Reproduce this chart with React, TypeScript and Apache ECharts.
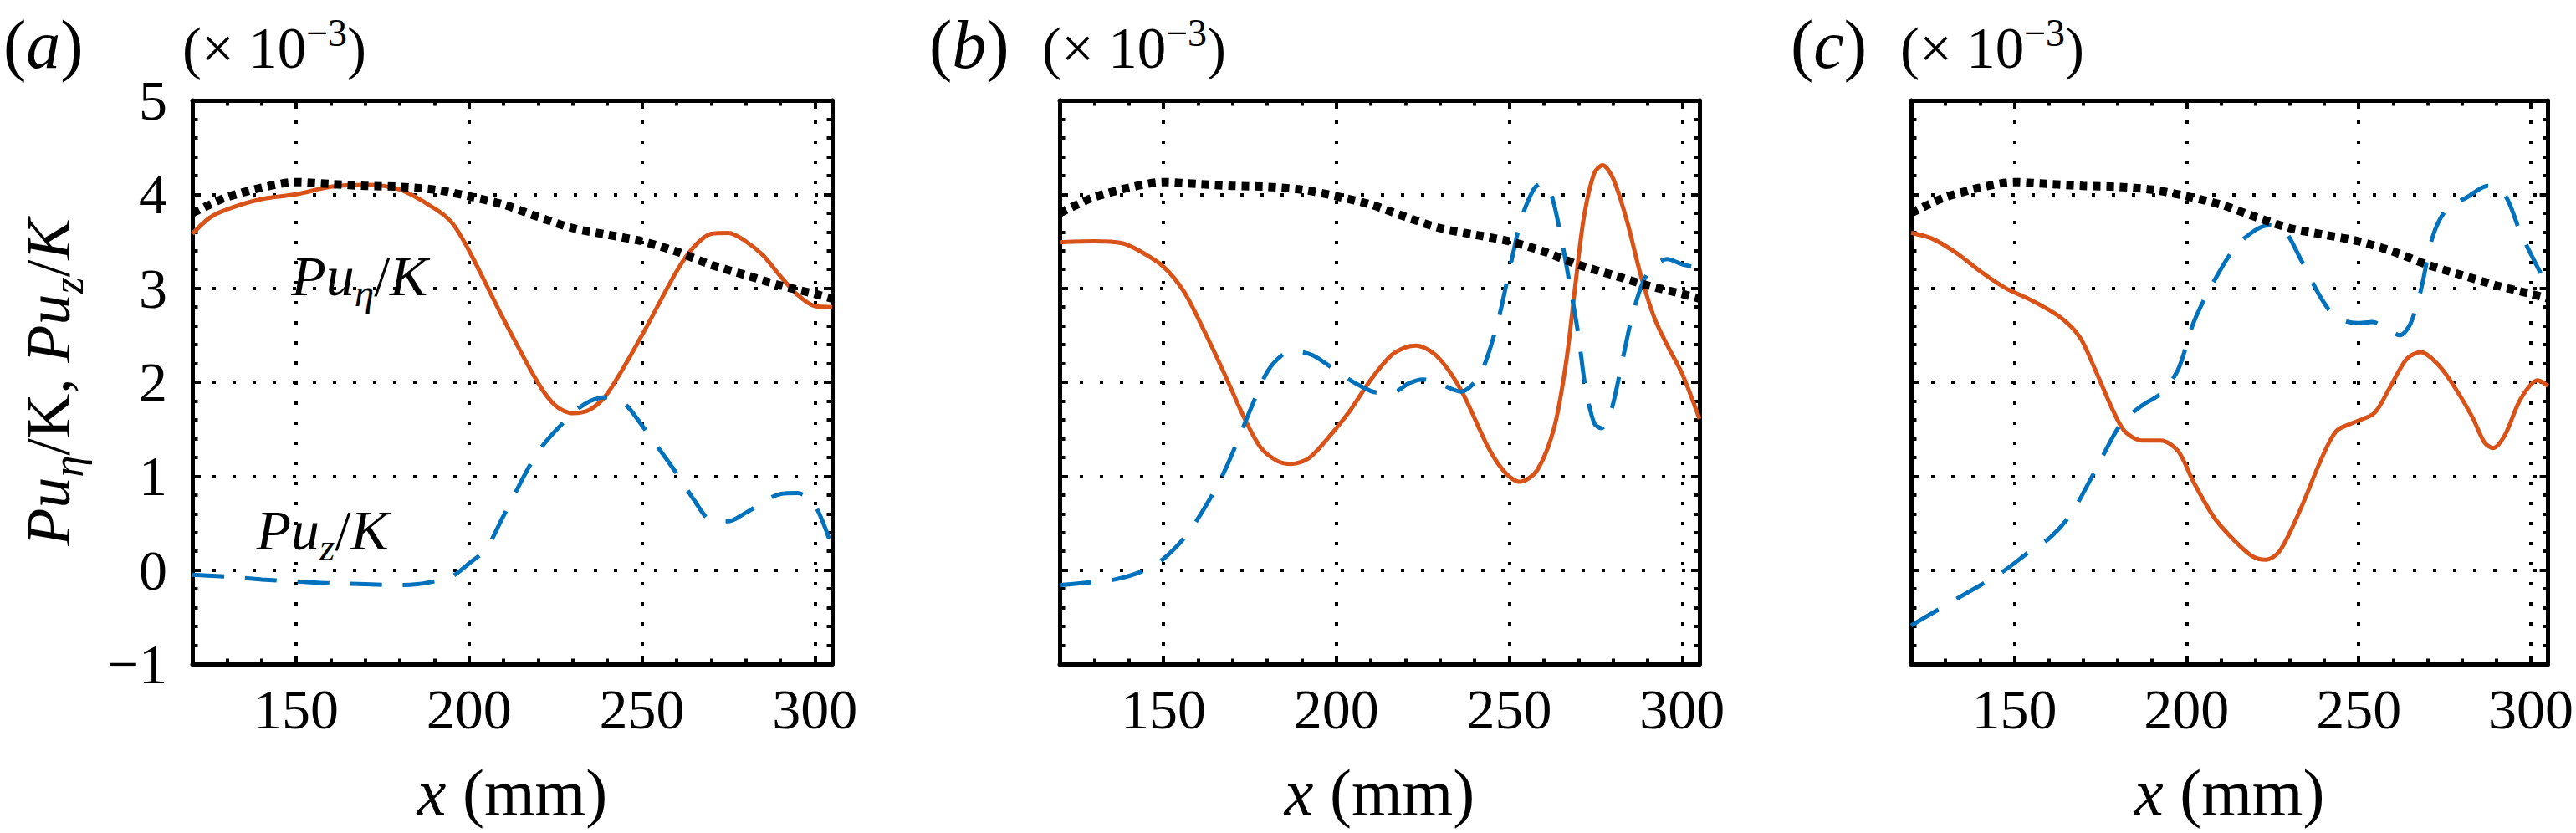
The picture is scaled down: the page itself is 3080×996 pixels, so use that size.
import React, { useEffect, useRef } from 'react';
import * as echarts from 'echarts';

const FONT = '"Liberation Serif", "Times New Roman", serif';
const ORANGE = '#D95319';
const BLUE = '#0072BD';
const BLACK = '#000000';

// ---------- data (x in mm, values in units of 1e-3) ----------
// black dotted reference curve (same in all panels)
const dottedX = [120, 125, 130, 140, 150, 160, 170, 180, 190, 200, 210, 220, 230, 240, 250, 260, 270, 280, 290, 300, 305];
const dottedY = [3.80, 3.89, 3.97, 4.07, 4.13, 4.11, 4.09, 4.08, 4.05, 3.98, 3.89, 3.76, 3.64, 3.57, 3.50, 3.39, 3.25, 3.14, 3.03, 2.94, 2.89];

// panel (a)
const aEtaX = [120, 125, 130, 140, 150, 160, 170, 180, 190, 195, 200, 210, 220, 225, 230, 235, 240, 250, 260, 265, 270, 275, 280, 285, 290, 295, 300, 305];
const aEtaY = [3.58, 3.75, 3.84, 3.95, 4.00, 4.08, 4.10, 4.05, 3.85, 3.70, 3.40, 2.67, 1.99, 1.75, 1.67, 1.71, 1.88, 2.50, 3.18, 3.44, 3.58, 3.59, 3.50, 3.35, 3.13, 2.93, 2.81, 2.80];
const aZX = [120, 130, 140, 150, 160, 170, 180, 185, 190, 195, 200, 205, 210, 220, 230, 235, 240, 245, 250, 260, 265, 270, 275, 280, 290, 295, 300, 305];
const aZY = [-0.05, -0.07, -0.10, -0.12, -0.14, -0.15, -0.16, -0.15, -0.12, -0.07, 0.07, 0.23, 0.58, 1.26, 1.67, 1.80, 1.84, 1.77, 1.54, 1.03, 0.75, 0.53, 0.52, 0.61, 0.81, 0.82, 0.69, 0.24];

// panel (b)
const bEtaX = [120, 130, 138, 143, 150, 156, 162, 168, 173, 178, 183, 187, 192, 197, 204, 210, 216, 220, 223, 229, 236, 244, 249, 253, 258, 263, 266.5, 269, 271.5, 274.5, 277, 280, 284, 288, 292, 296, 300, 305];
const bEtaY = [3.49, 3.50, 3.48, 3.40, 3.23, 2.96, 2.53, 2.06, 1.65, 1.31, 1.16, 1.13, 1.19, 1.38, 1.70, 2.03, 2.29, 2.37, 2.39, 2.28, 1.92, 1.30, 1.03, 0.94, 1.06, 1.52, 2.23, 3.00, 3.74, 4.22, 4.31, 4.17, 3.72, 3.14, 2.68, 2.37, 2.09, 1.61];
const bZX = [120, 129, 136, 144, 150, 156, 160, 165, 168, 171.5, 175.5, 180, 184, 187, 193, 200, 206, 212, 217, 221, 225, 230, 236, 241.5, 246.5, 250.5, 253.5, 257, 259.3, 262, 265, 267.3, 270, 272, 274.6, 276.6, 279.4, 282.7, 286, 290, 295.6, 300.4, 305];
const bZY = [-0.16, -0.13, -0.10, -0.01, 0.12, 0.34, 0.55, 0.86, 1.08, 1.38, 1.74, 2.11, 2.28, 2.33, 2.29, 2.12, 1.98, 1.89, 1.90, 1.99, 2.03, 1.98, 1.90, 2.08, 2.62, 3.27, 3.74, 4.05, 4.12, 4.01, 3.54, 3.08, 2.50, 1.95, 1.56, 1.51, 1.69, 2.23, 2.77, 3.16, 3.31, 3.25, 3.22];

// panel (c)
const cEtaX = [120, 126, 133, 140.5, 147.5, 154.5, 163, 169, 173.5, 178.5, 182, 187, 192.5, 197.5, 202, 208, 214, 219, 223, 227, 233, 239, 243.5, 248.5, 254.5, 259, 264, 268, 273.5, 278, 283, 286.5, 289, 292.5, 297, 302, 305];
const cEtaY = [3.59, 3.53, 3.38, 3.17, 3.00, 2.88, 2.70, 2.48, 2.13, 1.71, 1.48, 1.38, 1.38, 1.27, 0.94, 0.56, 0.31, 0.15, 0.11, 0.20, 0.64, 1.17, 1.48, 1.57, 1.67, 1.94, 2.25, 2.32, 2.17, 1.94, 1.63, 1.36, 1.30, 1.44, 1.82, 2.02, 1.96];
const cZX = [120, 133.5, 146.5, 154.5, 160.5, 166.5, 173.5, 181, 187, 192.5, 197.5, 202, 207, 214, 220, 224, 228.5, 233, 239, 243.5, 249.5, 254, 258, 262, 265, 268, 271.5, 275.5, 281.5, 287.5, 292.5, 297, 302, 305];
const cZY = [-0.59, -0.30, -0.02, 0.20, 0.35, 0.60, 1.06, 1.56, 1.75, 1.88, 2.13, 2.63, 3.01, 3.43, 3.62, 3.67, 3.61, 3.32, 2.90, 2.69, 2.63, 2.64, 2.58, 2.50, 2.62, 2.97, 3.55, 3.84, 3.97, 4.09, 3.99, 3.59, 3.22, 3.01];

// axes
const X_MIN = 120;
const X_MAX = 305;
const Y_MIN = -1;
const Y_MAX = 5;
const Y_STEP = 1;

// panel labels
const panelLetters = ['a', 'b', 'c'];

// annotations in panel (a): text, data x (left of text), data y (baseline)
const annotTexts = ['{i|Pu}{s|η}{n|/}{i|K}', '{i|Pu}{s|z}{n|/}{i|K}'];
const annotX = [149.1, 139.0];
const annotY = [2.93, 0.22];

// ---------- layout ----------
const GRID_LEFT = [230, 1267, 2285];
const GRID_W = [765, 765, 763];
const GRID_TOP = 120;
const GRID_H = 674;
const LABEL_X = [4, 1111, 2141];
const MULT_X = [218, 1246, 2272];

const pairs = (xs: number[], ys: number[]) => xs.map((x, i) => [x, ys[i]]);

const tickFont = { fontFamily: FONT, fontSize: 68, color: BLACK };

function buildOption() {
  const grid: any[] = [];
  const xAxis: any[] = [];
  const yAxis: any[] = [];
  const series: any[] = [];
  const solids = [[aEtaX, aEtaY], [bEtaX, bEtaY], [cEtaX, cEtaY]];
  const dashes = [[aZX, aZY], [bZX, bZY], [cZX, cZY]];

  const axisLine = { show: true, onZero: false, lineStyle: { color: BLACK, width: 5 } };
  const axisTick = { show: true, inside: true, length: 10, lineStyle: { color: BLACK, width: 4 } };
  const minorTick = { show: true, splitNumber: 5, length: 6.5, lineStyle: { color: BLACK, width: 4 } };
  const splitLine = { show: true, lineStyle: { color: BLACK, width: 4, type: [4, 20] } };

  for (let g = 0; g < 3; g++) {
    grid.push({ left: GRID_LEFT[g], top: GRID_TOP, width: GRID_W[g], height: GRID_H, containLabel: false });
    // bottom x
    xAxis.push({
      gridIndex: g, type: 'value', position: 'bottom', min: X_MIN, max: X_MAX, splitNumber: 4,
      axisLine, axisTick, minorTick, splitLine,
      axisLabel: { ...tickFont, margin: 20, showMinLabel: false, showMaxLabel: false },
      name: '{i|x} (mm)', nameLocation: 'middle', nameGap: 114,
      nameTextStyle: {
        fontFamily: FONT, fontSize: 78, color: BLACK,
        rich: { i: { fontFamily: FONT, fontSize: 78, fontStyle: 'italic', color: BLACK } },
      },
    });
    // top x (mirror)
    xAxis.push({
      gridIndex: g, type: 'value', position: 'top', min: X_MIN, max: X_MAX, splitNumber: 4,
      axisLine, axisTick, minorTick, splitLine: { show: false }, axisLabel: { show: false },
    });
    // left y
    yAxis.push({
      gridIndex: g, type: 'value', position: 'left', min: Y_MIN, max: Y_MAX, interval: Y_STEP,
      axisLine, axisTick, minorTick, splitLine,
      axisLabel: {
        show: g === 0, ...tickFont, margin: 30,
        formatter: (v: number) => (v < 0 ? '\u2212' + Math.abs(v) : String(v)),
      },
    });
    // right y (mirror)
    yAxis.push({
      gridIndex: g, type: 'value', position: 'right', min: Y_MIN, max: Y_MAX, interval: Y_STEP,
      axisLine, axisTick, minorTick, splitLine: { show: false }, axisLabel: { show: false },
    });

    const xi = g * 2;
    series.push({
      type: 'line', xAxisIndex: xi, yAxisIndex: xi, data: pairs(solids[g][0], solids[g][1]),
      showSymbol: false, smooth: 0.3, clip: true, z: 3,
      lineStyle: { color: ORANGE, width: 5 },
    });
    series.push({
      type: 'line', xAxisIndex: xi, yAxisIndex: xi, data: pairs(dashes[g][0], dashes[g][1]),
      showSymbol: false, smooth: 0.3, clip: true, z: 4,
      lineStyle: { color: BLUE, width: 5, type: [38, 25], cap: 'butt' },
    });
    series.push({
      type: 'line', xAxisIndex: xi, yAxisIndex: xi, data: pairs(dottedX, dottedY),
      showSymbol: false, smooth: 0.3, clip: true, z: 5,
      lineStyle: { color: BLACK, width: 10, type: [9, 7], cap: 'butt' },
    });
  }

  return {
    animation: false,
    backgroundColor: '#ffffff',
    grid, xAxis, yAxis, series,
  };
}

function richToken(size: number, italic: boolean, extra: any = {}) {
  return {
    fontFamily: FONT, fontSize: size, fontStyle: italic ? 'italic' : 'normal',
    fill: BLACK, color: BLACK, lineHeight: size, ...extra,
  };
}

function textEl(text: string, x: number, y: number, rich: any, align: string, extra: any = {}) {
  return {
    type: 'text', x, y, ...extra,
    style: {
      text, rich, fill: BLACK,
      fontFamily: FONT, fontSize: 66,
      align, verticalAlign: 'middle', textAlign: align, textVerticalAlign: 'middle',
    },
  };
}

function buildGraphic(chart: any) {
  const els: any[] = [];
  const labelRich = { n: richToken(82, false), i: richToken(82, true) };
  const multRich = {
    n: richToken(69, false),
    p: richToken(46, false, { lineHeight: 30, height: 31, verticalAlign: 'top' }),
  };
  for (let g = 0; g < 3; g++) {
    els.push(textEl(`{n|(}{i|${panelLetters[g]}}{n|)}`, LABEL_X[g], 53, labelRich, 'left'));
    els.push(textEl('{n|(\u00d7 10}{p|\u22123}{n|)}', MULT_X[g], 58, multRich, 'left'));
  }
  // y axis title
  const yRich = {
    i: richToken(74, true),
    n: richToken(74, false),
    s: richToken(52, true, { lineHeight: 28, height: 28, verticalAlign: 'bottom' }),
  };
  els.push(textEl('{i|Pu}{s|η}{n|/K, }{i|Pu}{s|z}{n|/}{i|K}', 58, GRID_TOP + GRID_H / 2, yRich, 'center', { rotation: Math.PI / 2 }));
  // annotations
  const aRich = {
    i: richToken(68, true),
    n: richToken(68, false),
    s: richToken(47, true, { lineHeight: 28, height: 28, verticalAlign: 'bottom' }),
  };
  for (let k = 0; k < annotTexts.length; k++) {
    const p = chart.convertToPixel({ gridIndex: 0 }, [annotX[k], annotY[k]]);
    els.push(textEl(annotTexts[k], p[0] - 2, p[1] - 23, aRich, 'left'));
  }
  return els;
}

export default function App() {
  const ref = useRef<HTMLDivElement>(null);
  useEffect(() => {
    document.body.style.margin = '0';
    if (!ref.current) return;
    const chart = echarts.init(ref.current, null, { renderer: 'svg' });
    chart.setOption(buildOption());
    chart.setOption({ graphic: { elements: buildGraphic(chart) } });
    return () => chart.dispose();
  }, []);
  return <div ref={ref} style={{ width: 3080, height: 996, background: '#fff' }} />;
}
